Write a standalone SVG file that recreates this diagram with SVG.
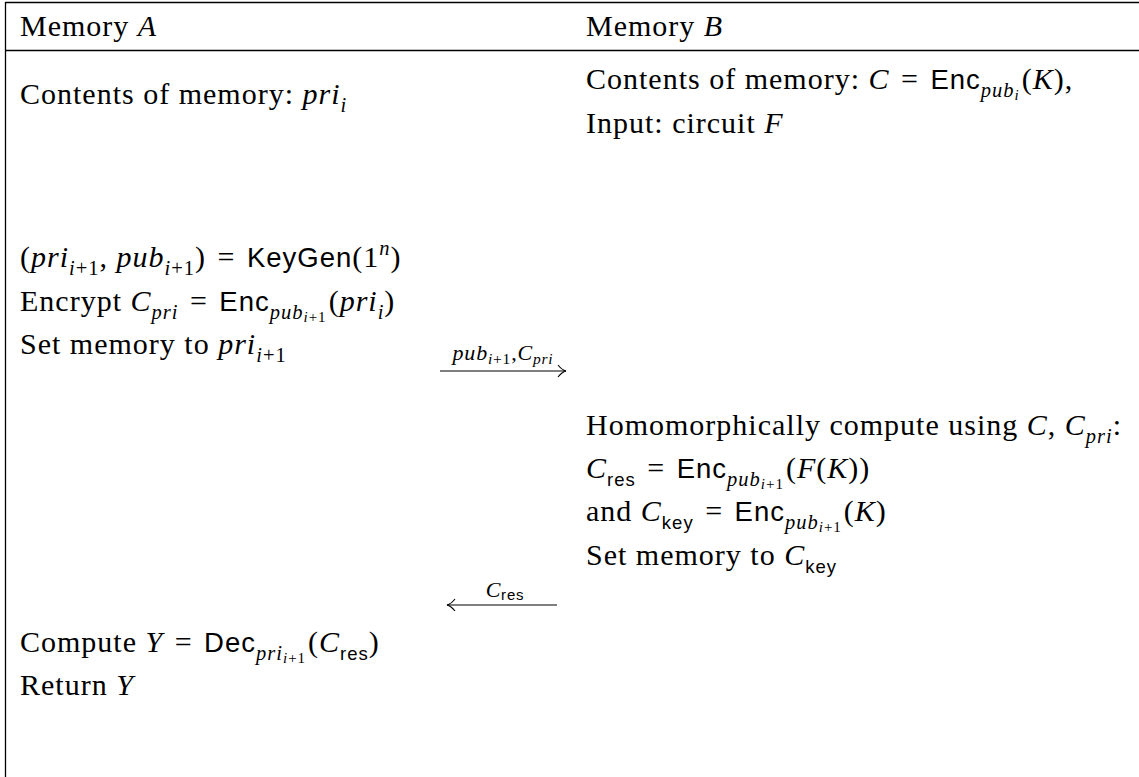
<svg xmlns="http://www.w3.org/2000/svg" width="1139" height="777" viewBox="0 0 1139 777">
<style>
text{font-family:"Liberation Serif",serif;font-size:30px;fill:#000;letter-spacing:1px}
.i{font-style:italic}
.s{font-family:"Liberation Sans",sans-serif;font-size:27.5px}
.sub{font-size:20.5px}
.ss{font-size:15px}
.ssans{font-family:"Liberation Sans",sans-serif;font-size:18.5px}
.lbl{font-size:22px;letter-spacing:0.8px}
.lsub{font-size:15.5px}
.lsans{font-family:"Liberation Sans",sans-serif;font-size:15px}
.rule{stroke:#000;stroke-width:1.3;fill:none}
.arr{stroke:#000;stroke-width:1.1;fill:none}
</style>
<defs>
<marker id="head" markerWidth="12" markerHeight="14" refX="10" refY="7" orient="auto" markerUnits="userSpaceOnUse">
<path d="M2,1 Q6,6 10,7 Q6,8 2,13" fill="none" stroke="#000" stroke-width="1.1"/>
</marker>
</defs>
<rect width="1139" height="777" fill="#fff"/>
<g id="table">
<line class="rule" x1="5.5" y1="2.5" x2="1139" y2="2.5"/>
<line class="rule" x1="5.5" y1="50.5" x2="1139" y2="50.5"/>
<line class="rule" x1="5.5" y1="2" x2="5.5" y2="777"/>
</g>
<g id="header-a"><text x="20" y="36">Memory <tspan class="i">A</tspan></text></g>
<g id="header-b"><text x="586" y="36">Memory <tspan class="i">B</tspan></text></g>
<g id="a-contents"><text x="20" y="104">Contents of memory: <tspan class="i">pri</tspan><tspan class="i sub" dy="7.5">i</tspan></text></g>
<g id="b-contents">
<text x="586" y="89">Contents of memory: <tspan class="i">C</tspan><tspan dx="3"> = </tspan><tspan class="s" dx="3">Enc</tspan><tspan class="i sub" dy="7.5">pub</tspan><tspan class="i ss" dy="3">i</tspan><tspan dy="-10.5" dx="2">(</tspan><tspan class="i">K</tspan>),</text>
<text x="586" y="133">Input: circuit <tspan class="i">F</tspan></text>
</g>
<g id="a-keygen">
<text x="20" y="267">(<tspan class="i">pri</tspan><tspan class="sub" dy="7.5"><tspan class="i">i</tspan>+1</tspan><tspan dy="-7.5">, </tspan><tspan class="i">pub</tspan><tspan class="sub" dy="7.5"><tspan class="i">i</tspan>+1</tspan><tspan dy="-7.5">)</tspan><tspan dx="3"> = </tspan><tspan class="s" dx="3">KeyGen</tspan>(1<tspan class="i sub" dy="-12">n</tspan><tspan dy="12">)</tspan></text>
<text x="20" y="311">Encrypt <tspan class="i">C</tspan><tspan class="i sub" dy="7.5">pri</tspan><tspan dy="-7.5" dx="3"> = </tspan><tspan class="s" dx="3">Enc</tspan><tspan class="i sub" dy="7.5">pub</tspan><tspan class="ss" dy="3"><tspan class="i">i</tspan>+1</tspan><tspan dy="-10.5" dx="2">(</tspan><tspan class="i">pri</tspan><tspan class="i sub" dy="7.5">i</tspan><tspan dy="-7.5">)</tspan></text>
<text x="20" y="354">Set memory to <tspan class="i">pri</tspan><tspan class="sub" dy="7.5"><tspan class="i">i</tspan>+1</tspan></text>
</g>
<g id="b-compute">
<text x="586" y="435">Homomorphically compute using <tspan class="i">C</tspan>, <tspan class="i">C</tspan><tspan class="i sub" dy="7.5">pri</tspan><tspan dy="-7.5">:</tspan></text>
<text x="586" y="478"><tspan class="i">C</tspan><tspan class="ssans" dy="7.5">res</tspan><tspan dy="-7.5" dx="3"> = </tspan><tspan class="s" dx="3">Enc</tspan><tspan class="i sub" dy="7.5">pub</tspan><tspan class="ss" dy="3"><tspan class="i">i</tspan>+1</tspan><tspan dy="-10.5" dx="2">(</tspan><tspan class="i">F</tspan>(<tspan class="i">K</tspan>))</text>
<text x="586" y="521">and <tspan class="i">C</tspan><tspan class="ssans" dy="7.5">key</tspan><tspan dy="-7.5" dx="3"> = </tspan><tspan class="s" dx="3">Enc</tspan><tspan class="i sub" dy="7.5">pub</tspan><tspan class="ss" dy="3"><tspan class="i">i</tspan>+1</tspan><tspan dy="-10.5" dx="2">(</tspan><tspan class="i">K</tspan>)</text>
<text x="586" y="565">Set memory to <tspan class="i">C</tspan><tspan class="ssans" dy="7.5">key</tspan></text>
</g>
<g id="a-result">
<text x="20" y="652">Compute <tspan class="i">Y</tspan><tspan dx="3"> = </tspan><tspan class="s" dx="3">Dec</tspan><tspan class="i sub" dy="7.5">pri</tspan><tspan class="ss" dy="3"><tspan class="i">i</tspan>+1</tspan><tspan dy="-10.5" dx="2">(</tspan><tspan class="i">C</tspan><tspan class="ssans" dy="7.5">res</tspan><tspan dy="-7.5">)</tspan></text>
<text x="20" y="695">Return <tspan class="i">Y</tspan></text>
</g>
<g id="connectors">
<line class="arr" x1="440" y1="371" x2="566" y2="371" marker-end="url(#head)"/>
<text class="lbl" x="503" y="360" text-anchor="middle"><tspan class="i">pub</tspan><tspan class="lsub" dy="4"><tspan class="i">i</tspan>+1</tspan><tspan dy="-4">,</tspan><tspan class="i">C</tspan><tspan class="lsub i" dy="4">pri</tspan></text>
<line class="arr" x1="557" y1="605" x2="447" y2="605" marker-end="url(#head)"/>
<text class="lbl" x="505" y="597" text-anchor="middle"><tspan class="i">C</tspan><tspan class="lsans" dy="3">res</tspan></text>
</g>
</svg>
